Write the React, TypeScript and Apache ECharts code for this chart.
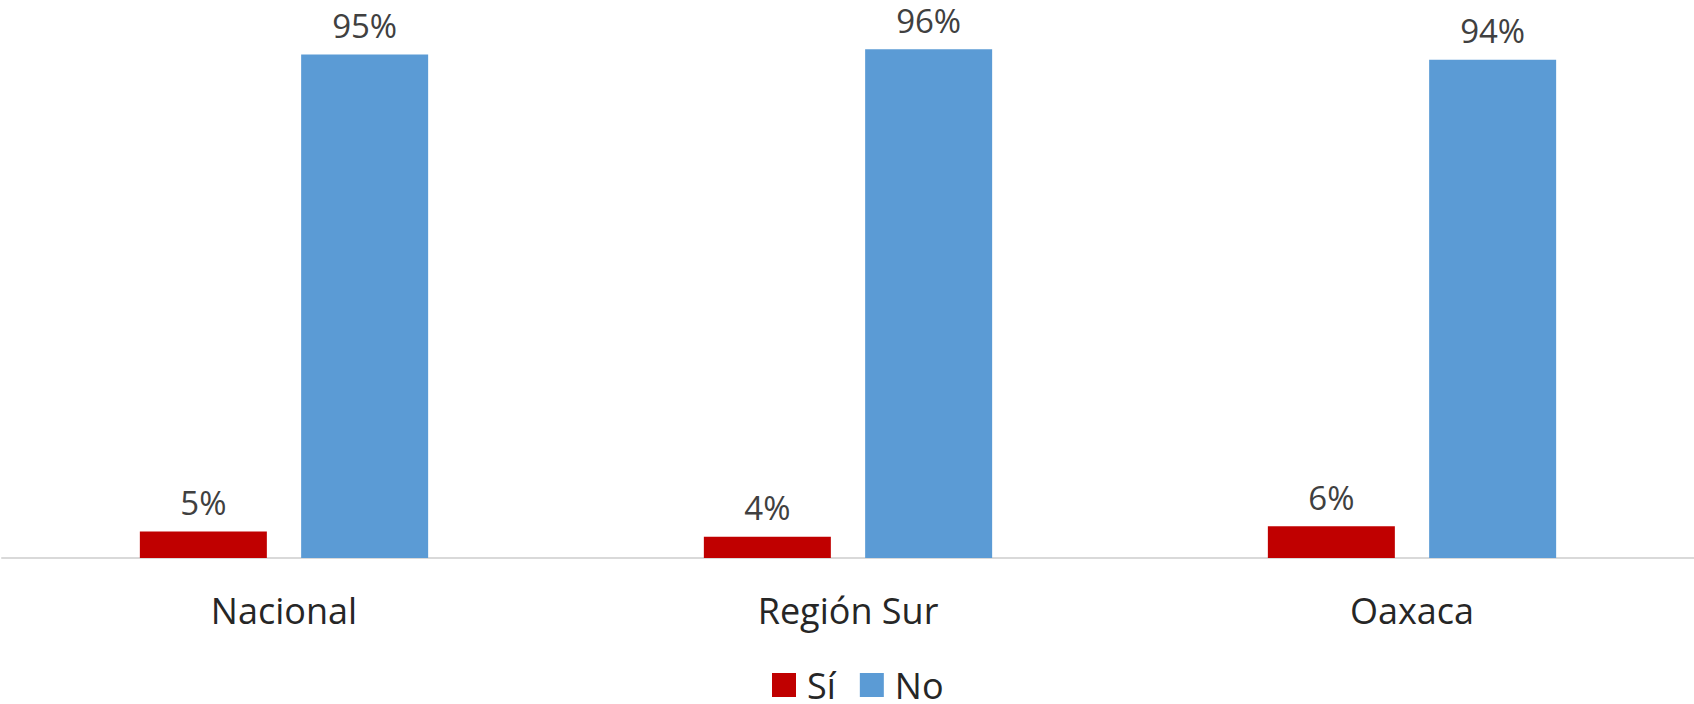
import React, { useEffect, useRef } from "react";
import * as echarts from "echarts";

const categories = ["Nacional", "Región Sur", "Oaxaca"];
const siValues = [5, 4, 6];
const noValues = [95, 96, 94];
const seriesNames = ["Sí", "No"];

export default function App() {
  const ref = useRef<HTMLDivElement>(null);
  useEffect(() => {
    if (!ref.current) return;
    const chart = echarts.init(ref.current, undefined, { renderer: "svg" });
    const font = "'Open Sans', sans-serif";
    const label = {
      show: true,
      position: "top",
      distance: 16,
      formatter: "{c}%",
      fontFamily: font,
      fontSize: 33,
      lineHeight: 26,
      color: "#404040",
    };
    chart.setOption({
      animation: false,
      grid: { left: 2, right: 0, top: 28, bottom: 146, containLabel: false },
      legend: {
        bottom: -4,
        left: 767,
        itemWidth: 24,
        itemHeight: 24,
        itemGap: 24,
        icon: "rect",
        textStyle: {
          fontFamily: font,
          fontSize: 36,
          lineHeight: 28,
          color: "#262626",
          padding: [0, 0, 0, 6],
        },
        data: seriesNames,
      },
      xAxis: {
        type: "category",
        data: categories,
        axisLine: { lineStyle: { color: "#D9D9D9", width: 2 } },
        axisTick: { show: false },
        axisLabel: { fontFamily: font, fontSize: 36, color: "#262626", margin: 34 },
      },
      yAxis: {
        type: "value",
        min: 0,
        max: 100,
        show: false,
        splitLine: { show: false },
      },
      series: [
        {
          name: seriesNames[0],
          type: "bar",
          data: siValues,
          barWidth: 127,
          barGap: "27%",
          itemStyle: { color: "#C00000" },
          label,
        },
        {
          name: seriesNames[1],
          type: "bar",
          data: noValues,
          barWidth: 127,
          barGap: "27%",
          itemStyle: { color: "#5B9BD5" },
          label,
        },
      ],
    });
    return () => chart.dispose();
  }, []);
  return (
    <div
      ref={ref}
      style={{ position: "absolute", left: 0, top: 0, width: 1694, height: 704, background: "#fff" }}
    />
  );
}
